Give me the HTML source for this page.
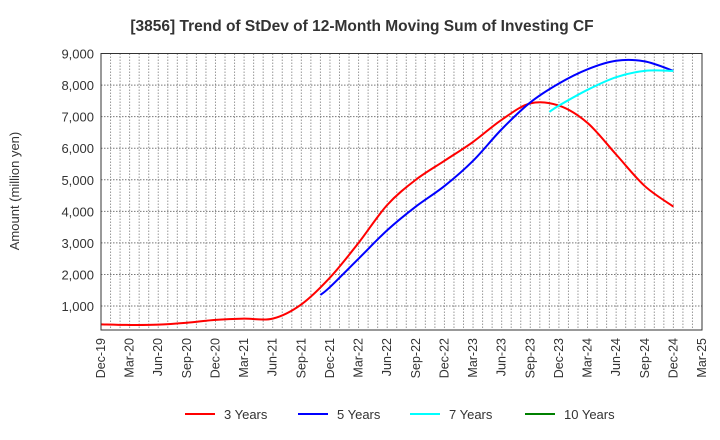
<!DOCTYPE html>
<html><head><meta charset="utf-8"><style>
body{margin:0;background:#fff;font-family:"Liberation Sans",sans-serif;}
</style></head><body>
<svg id="c" width="720" height="440" xmlns="http://www.w3.org/2000/svg" style="display:block">
<text x="362" y="31" text-anchor="middle" font-size="15.5" font-weight="bold" fill="#333">[3856]  Trend of StDev of 12-Month Moving Sum of Investing CF</text>
<text transform="translate(19,191) rotate(-90)" text-anchor="middle" font-size="13" fill="#333">Amount (million yen)</text>
<g id="grid"></g><g id="series"></g><g id="axes"></g><g id="legend"></g>
</svg>
<script>
const xLabels=["Dec-19","Mar-20","Jun-20","Sep-20","Dec-20","Mar-21","Jun-21","Sep-21","Dec-21","Mar-22","Jun-22","Sep-22","Dec-22","Mar-23","Jun-23","Sep-23","Dec-23","Mar-24","Jun-24","Sep-24","Dec-24","Mar-25"];
const yTicks=[1000,2000,3000,4000,5000,6000,7000,8000,9000];
const s3m=[0,3,6,9,12,15,18,21,24,27,30,33,36,39,42,45,48,51,54,57,60];
const s3v=[420,400,410,470,560,600,600,1050,1900,3000,4200,5000,5600,6200,6900,7420,7350,6800,5800,4800,4150];
const s5m=[23,24,27,30,33,36,39,42,45,48,51,54,57,60];
const s5v=[1350,1600,2500,3400,4150,4800,5600,6600,7450,8050,8500,8770,8750,8450];
const s7m=[47,48,51,54,57,60];
const s7v=[7150,7350,7850,8250,8450,8450];
const s10m=[];const s10v=[];
const L=101,R=702,T=53.5,B=330,YMIN=240,YMAX=9000,MMAX=63;
const X=m=>L+(R-L)*m/MMAX, Y=v=>B-(B-T)*(v-YMIN)/(YMAX-YMIN);
const NS="http://www.w3.org/2000/svg";
function mk(tag,attrs,parent){const e=document.createElementNS(NS,tag);for(const k in attrs)e.setAttribute(k,attrs[k]);parent.appendChild(e);return e;}
const grid=document.getElementById('grid'),axes=document.getElementById('axes'),ser=document.getElementById('series'),leg=document.getElementById('legend');
for(let m=1;m<MMAX;m++){const l=mk('line',{x1:X(m),x2:X(m),y1:T,y2:B,stroke:'#999','stroke-dasharray':'1.5,1.5','stroke-width':1},grid);

}
yTicks.forEach(v=>{const l=mk('line',{x1:L,x2:R,y1:Y(v),y2:Y(v),stroke:'#777','stroke-dasharray':'1.5,1.5'},grid);


const t=mk('text',{x:L-7,y:Y(v)+5,'text-anchor':'end','font-size':13,fill:'#333'},axes);t.textContent=v.toLocaleString('en-US');

});
const fr=mk('rect',{x:L,y:T,width:R-L,height:B-T,fill:'none',stroke:'#333','stroke-width':1},axes);


xLabels.forEach((s,i)=>{const x=X(i*3);const t=mk('text',{transform:`translate(${x+4},${B+8}) rotate(-90)`,'text-anchor':'end','font-size':12.5,fill:'#333'},axes);t.textContent=s;

});
function path(ms,vs){if(!ms.length)return'';const p=ms.map((m,i)=>[X(m),Y(vs[i])]);let d=`M${p[0][0]},${p[0][1]}`;
for(let i=0;i<p.length-1;i++){const p0=p[i-1]||p[i],p1=p[i],p2=p[i+1],p3=p[i+2]||p2;
d+=` C${p1[0]+(p2[0]-p0[0])/6},${p1[1]+(p2[1]-p0[1])/6} ${p2[0]-(p3[0]-p1[0])/6},${p2[1]-(p3[1]-p1[1])/6} ${p2[0]},${p2[1]}`;}return d;}
const S=[[s3m,s3v,'#ff0000','3 Years','series-3-years'],[s5m,s5v,'#0000ff','5 Years','series-5-years'],[s7m,s7v,'#00ffff','7 Years','series-7-years'],[s10m,s10v,'#008000','10 Years','series-10-years']];
S.forEach(([m,v,c,n,dn])=>{if(!m.length)return;const p=mk('path',{d:path(m,v),fill:'none',stroke:c,'stroke-width':2},ser);

});
const lx=[185,298,410,525];
S.forEach(([m,v,c,n,dn],i)=>{const g=mk('g',{},leg);


mk('line',{x1:lx[i],x2:lx[i]+30,y1:414,y2:414,stroke:c,'stroke-width':2},g);
const t=mk('text',{x:lx[i]+39,y:419,'font-size':13,fill:'#333'},g);t.textContent=n;});
</script>
</body></html>
